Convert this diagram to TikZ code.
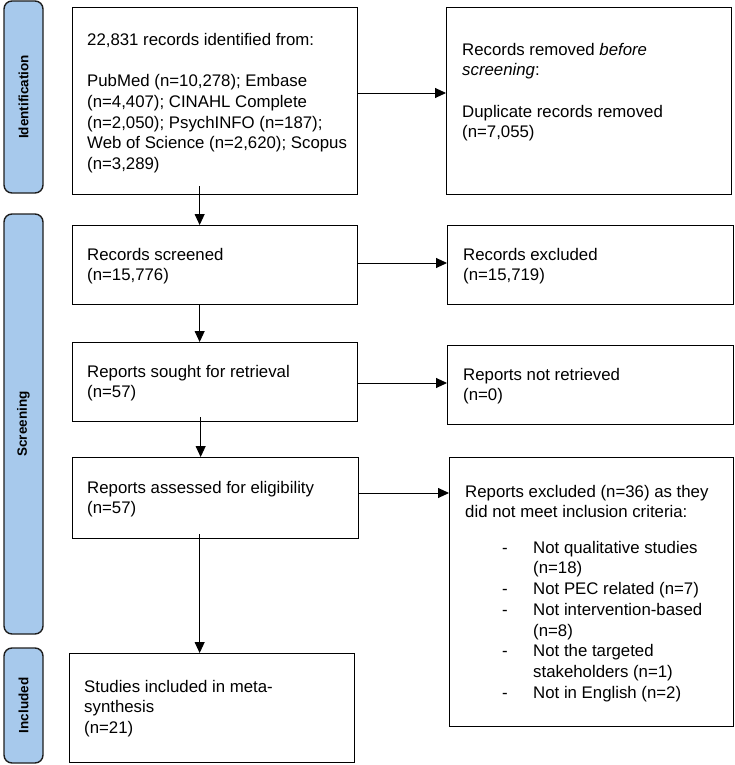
\documentclass[tikz,border=0pt]{standalone}
\usepackage{fontspec}
\setmainfont{Liberation Sans}
\usetikzlibrary{arrows.meta}
\definecolor{phaseblue}{HTML}{A7C9EC}
\definecolor{phaseline}{HTML}{1E1E1E}
\newcommand\firstln{\rule{0pt}{15pt}}
\begin{document}
\begin{tikzpicture}[x=1pt,y=-1pt,
  box/.style={draw, line width=1.3pt, inner sep=0pt, anchor=north west},
  txt/.style={inner sep=0pt, anchor=north west, align=left,
    font=\fontsize{16.8}{20.7}\selectfont},
  phase/.style={draw=phaseline, fill=phaseblue, rounded corners=8pt, rotate=90,
    line width=1.4pt, inner sep=0pt, minimum height=39pt,
    font=\bfseries\fontsize{13.5}{16}\selectfont},
  arr/.style={line width=0.9pt, -{Triangle[length=11pt,width=10pt]}}]
\useasboundingbox (0,0) rectangle (735,765);

% phase bars
\node[phase, minimum width=192pt] (pid) at (23.5,97) {Identification};
\node[phase, minimum width=420pt] (psc) at (23.5,424) {Screening};
\node[phase, minimum width=115pt] (pin) at (23.5,705.5) {Included};

% left column boxes
\node[box, minimum width=285pt, minimum height=187pt] (b1) at (72,7) {};
\node[box, minimum width=285pt, minimum height=79pt] (b2) at (72,225) {};
\node[box, minimum width=285pt, minimum height=79pt] (b3) at (72,342) {};
\node[box, minimum width=286pt, minimum height=81pt] (b4) at (72,457) {};
\node[box, minimum width=285pt, minimum height=109pt] (b5) at (69,653) {};

% right column boxes
\node[box, minimum width=285pt, minimum height=187pt] (r1) at (446,7) {};
\node[box, minimum width=286pt, minimum height=79pt] (r2) at (447,225) {};
\node[box, minimum width=286pt, minimum height=79pt] (r3) at (447,345) {};
\node[box, minimum width=284pt, minimum height=269pt] (r4) at (449,457) {};

% texts
\node[txt] (t1) at (87,30) {\firstln 22,831 records identified from:\\[20.7pt]
PubMed (n=10,278); Embase\\
(n=4,407); CINAHL Complete\\
(n=2,050); PsychINFO (n=187);\\
Web of Science (n=2,620); Scopus\\
(n=3,289)};
\node[txt] (tr1) at (462,40) {\firstln Records removed \textit{before}\\
\textit{screening}:\\[20.7pt]
Duplicate records removed\\
(n=7,055)};
\node[txt] (t2) at (87,245) {\firstln Records screened\\(n=15,776)};
\node[txt] (tr2) at (463,245) {\firstln Records excluded\\(n=15,719)};
\node[txt] (t3) at (87,362) {\firstln Reports sought for retrieval\\(n=57)};
\node[txt] (tr3) at (463,365) {\firstln Reports not retrieved\\(n=0)};
\node[txt] (t4) at (87,478) {\firstln Reports assessed for eligibility\\(n=57)};
\node[txt] (tr4) at (465,482) {\firstln Reports excluded (n=36) as they\\
did not meet inclusion criteria:\\[14.6pt]
\hspace*{37pt}\makebox[31pt][l]{-}Not qualitative studies\\
\hspace*{68pt}(n=18)\\
\hspace*{37pt}\makebox[31pt][l]{-}Not PEC related (n=7)\\
\hspace*{37pt}\makebox[31pt][l]{-}Not intervention-based\\
\hspace*{68pt}(n=8)\\
\hspace*{37pt}\makebox[31pt][l]{-}Not the targeted\\
\hspace*{68pt}stakeholders (n=1)\\
\hspace*{37pt}\makebox[31pt][l]{-}Not in English (n=2)};
\node[txt] (t5) at (84,677) {\firstln Studies included in meta-\\synthesis\\(n=21)};

% vertical arrows
\draw[arr] ([xshift=-15.5pt,yshift=9pt]b1.south) -- ([xshift=-15.5pt]b2.north);
\draw[arr] ([xshift=-15.5pt]b2.south) -- ([xshift=-15.5pt]b3.north);
\draw[arr] ([xshift=-14.5pt,yshift=5pt]b3.south) -- ([xshift=-15pt]b4.north);
\draw[arr] ([xshift=-16pt,yshift=5pt]b4.south) -- ([xshift=-12.5pt]b5.north);

% horizontal arrows
\draw[arr] (b1.east |- {(0,93)}) -- (r1.west |- {(0,93)});
\draw[arr] (b2.east |- {(0,263)}) -- (r2.west |- {(0,263)});
\draw[arr] (b3.east |- {(0,383)}) -- (r3.west |- {(0,383)});
\draw[arr] (b4.east |- {(0,493)}) -- (r4.west |- {(0,493)});
\end{tikzpicture}
\end{document}
